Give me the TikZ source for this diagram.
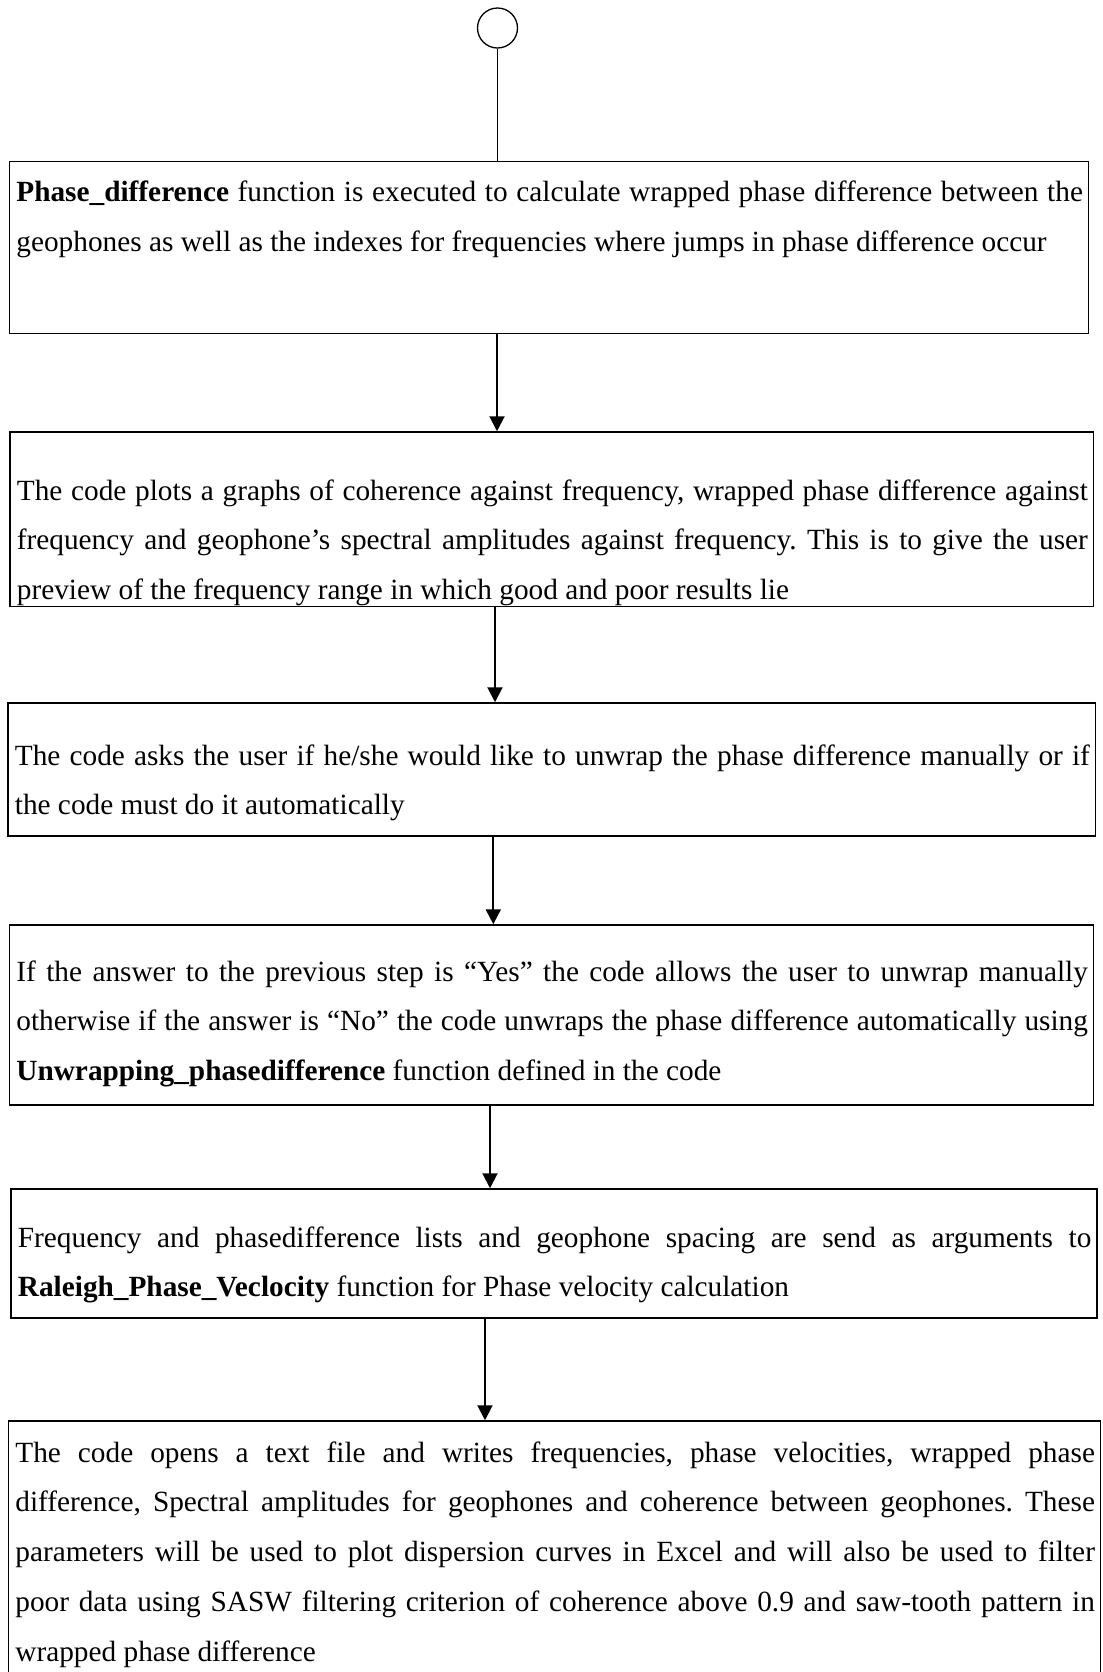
\documentclass[tikz,border=0pt]{standalone}
\usepackage{fontspec}
\setmainfont{Liberation Serif}
\usetikzlibrary{arrows.meta}
\newcommand{\jline}[1]{\makebox[\hsize][s]{#1}}
\newcommand{\wsp}{\frenchspacing\spaceskip=0.25em plus 0.5em minus 0.08em\xspaceskip=\spaceskip\relax}
\begin{document}
\begin{tikzpicture}[x=0.5pt,y=-0.5pt,
  box/.style={draw, line width=0.75pt, rectangle, inner sep=0pt},
  txt/.style={inner sep=0pt, anchor=base west, align=left,
    font=\fontsize{14.65pt}{24.9pt}\selectfont},
  arr/.style={line width=1pt, -{Triangle[length=7.5pt,width=7.5pt]}},
  thin/.style={line width=0.65pt}
]
\useasboundingbox (0,0) rectangle (1103,1672);
\clip (0,0) rectangle (1103,1672);

% start circle
\node[draw, circle, thin, minimum size=20pt, inner sep=0pt] (c) at (497.5,28) {};

% boxes
\node[box, minimum width=539.5pt, minimum height=86pt]    (b1) at (549,247.5) {};
\node[box, minimum width=541.75pt, minimum height=87.25pt] (b2) at (551.75,519.25) {};
\node[box, minimum width=543.75pt, minimum height=66.5pt]  (b3) at (551.75,769.5) {};
\node[box, minimum width=542pt, minimum height=90pt]       (b4) at (551.5,1015) {};
\node[box, minimum width=543pt, minimum height=64.5pt]     (b5) at (554,1253.5) {};
\node[box, minimum width=546pt, minimum height=159.5pt]    (b6) at (554.5,1580.5) {};

% texts
\node[txt, text width=533.25pt] (t1) at (16,201.5) {\wsp
\jline{\textbf{Phase\_difference} function is executed to calculate wrapped phase difference between the}\\
geophones as well as the indexes for frequencies where jumps in phase difference occur};

\node[txt, text width=535.5pt] (t2) at (16.5,500) {\wsp
\jline{The code plots a graphs of coherence against frequency, wrapped phase difference against}\\
\jline{frequency and geophone’s spectral amplitudes against frequency. This is to give the user}\\
preview of the frequency range in which good and poor results lie};

\node[txt, text width=537.5pt] (t3) at (14.5,765) {\wsp
\jline{The code asks the user if he/she would like to unwrap the phase difference manually or if}\\
the code must do it automatically};

\node[txt, text width=535.75pt] (t4) at (16,981) {\wsp
\jline{If the answer to the previous step is “Yes” the code allows the user to unwrap manually}\\
\jline{otherwise if the answer is “No” the code unwraps the phase difference automatically using}\\
\textbf{Unwrapping\_phasedifference} function defined in the code};

\node[txt, text width=536.75pt] (t5) at (17.5,1247) {\wsp
\jline{Frequency and phasedifference lists and geophone spacing are send as arguments to}\\
\textbf{Raleigh\_Phase\_Veclocity} function for Phase velocity calculation};

\node[txt, text width=539.75pt] (t6) at (15,1462) {\wsp
\jline{The code opens a text file and writes frequencies, phase velocities, wrapped phase}\\
\jline{difference, Spectral amplitudes for geophones and coherence between geophones. These}\\
\jline{parameters will be used to plot dispersion curves in Excel and will also be used to filter}\\
\jline{poor data using SASW filtering criterion of coherence above 0.9 and saw-tooth pattern in}\\
wrapped phase difference};

% connector x positions
\coordinate (a1) at (497,0);
\coordinate (a2) at (495,0);
\coordinate (a3) at (493.3,0);
\coordinate (a4) at (490,0);
\coordinate (a5) at (485,0);

% connectors
\draw[thin] (c.south) -- (c.south |- b1.north);
\draw[arr] (b1.south -| a1) -- (b2.north -| a1);
\draw[arr] (b2.south -| a2) -- (b3.north -| a2);
\draw[arr] (b3.south -| a3) -- (b4.north -| a3);
\draw[arr] (b4.south -| a4) -- (b5.north -| a4);
\draw[arr] (b5.south -| a5) -- (b6.north -| a5);
\end{tikzpicture}
\end{document}
